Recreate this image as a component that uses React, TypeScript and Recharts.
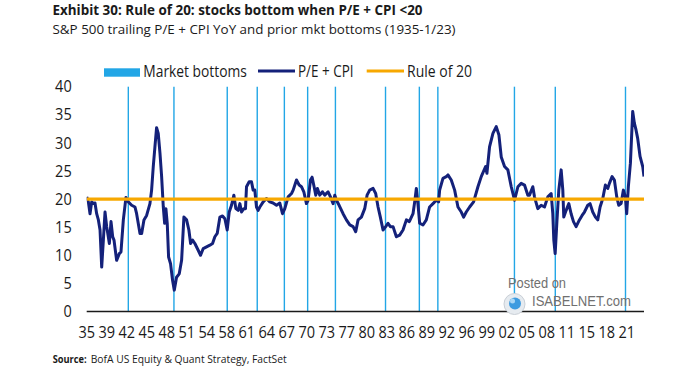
import React from 'react';
import { LineChart, Line, XAxis, YAxis, ReferenceLine } from 'recharts';

// Decimal years of the sampled points
const YEARS = [
  1935.78, 1936.04, 1936.3, 1936.56, 1936.82, 1937.08, 1937.34, 1937.61, 1937.87, 1938.13,
  1938.39, 1938.65, 1938.91, 1939.33, 1939.59, 1939.85, 1940.06, 1940.47, 1940.89, 1941.15,
  1941.52, 1941.93, 1942.3, 1942.82, 1943.34, 1943.6, 1944.13, 1944.39, 1944.75, 1945.17,
  1945.69, 1945.95, 1946.21, 1946.47, 1946.73, 1946.99, 1947.26, 1947.52, 1947.78, 1947.99,
  1948.19, 1948.4, 1948.61, 1948.92, 1949.24, 1949.5, 1949.86, 1950.28, 1950.65, 1951.01,
  1951.43, 1951.79, 1952.06, 1952.37, 1952.73, 1953.25, 1953.62, 1954.04, 1954.56, 1955.08,
  1955.5, 1955.86, 1956.23, 1956.65, 1957.06, 1957.43, 1957.79, 1958.11, 1958.47, 1958.84,
  1959.15, 1959.51, 1959.78, 1960.04, 1960.4, 1960.66, 1960.82, 1961.24, 1961.6, 1961.86,
  1962.12, 1962.38, 1962.64, 1962.91, 1963.43, 1963.95, 1964.47, 1964.98, 1965.52, 1966.04,
  1966.46, 1966.82, 1967.34, 1967.87, 1968.13, 1968.65, 1969.07, 1969.43, 1969.8, 1970.21,
  1970.47, 1970.84, 1971.1, 1971.41, 1971.67, 1971.93, 1972.3, 1972.72, 1973.08, 1973.6,
  1973.97, 1974.39, 1974.65, 1974.91, 1975.33, 1975.95, 1976.47, 1977.0, 1977.52, 1977.93,
  1978.3, 1978.82, 1979.34, 1979.71, 1980.12, 1980.65, 1981.06, 1981.43, 1981.79, 1982.21,
  1982.63, 1982.99, 1983.36, 1983.78, 1984.3, 1984.82, 1985.34, 1985.87, 1986.33, 1986.91,
  1987.17, 1987.43, 1987.69, 1987.95, 1988.47, 1988.99, 1989.51, 1990.04, 1990.56, 1990.92,
  1991.08, 1991.6, 1992.12, 1992.38, 1992.9, 1993.43, 1993.95, 1994.47, 1994.84, 1995.25,
  1995.78, 1996.4, 1997.08, 1997.6, 1998.28, 1998.49, 1998.9, 1999.43, 1999.95, 2000.37,
  2000.73, 2001.25, 2001.77, 2002.3, 2002.82, 2003.34, 2003.86, 2004.38, 2004.9, 2005.16,
  2005.68, 2005.94, 2006.46, 2006.99, 2007.51, 2008.03, 2008.55, 2008.81, 2008.97, 2009.18,
  2009.44, 2009.75, 2010.12, 2010.38, 2010.53, 2010.9, 2011.32, 2011.68, 2012.05, 2012.46,
  2012.98, 2013.4, 2013.77, 2014.29, 2014.65, 2015.07, 2015.49, 2015.85, 2016.22, 2016.64,
  2017.05, 2017.42, 2017.68, 2018.1, 2018.46, 2018.83, 2019.14, 2019.51, 2019.87, 2020.18,
  2020.39, 2020.65, 2020.97, 2021.33, 2021.59, 2021.85, 2022.11, 2022.48, 2022.9, 2023.1,
];

// S&P 500 trailing P/E + CPI YoY
const PE_CPI = [
  20.4, 19.5, 17.4, 19.5, 19.2, 19.3, 17.4, 16.3, 14.5, 7.9,
  12.7, 17.7, 15.1, 12.1, 16.0, 13.3, 12.7, 9.1, 10.3, 10.6,
  16.3, 20.3, 19.5, 18.9, 18.6, 17.4, 13.9, 13.9, 16.3, 17.1,
  19.2, 21.6, 25.8, 29.3, 32.7, 31.7, 28.2, 24.0, 18.6, 15.7,
  18.3, 15.7, 9.7, 8.5, 5.5, 3.8, 6.1, 6.7, 9.1, 16.8,
  16.3, 14.5, 12.1, 12.7, 12.1, 10.9, 10.0, 11.2, 11.5, 11.8,
  12.1, 13.3, 13.9, 16.8, 17.0, 16.5, 14.5, 17.7, 18.9, 20.7,
  18.3, 18.0, 19.2, 17.7, 18.3, 18.3, 22.2, 23.1, 23.1, 21.6,
  21.6, 18.6, 18.0, 18.6, 19.5, 20.1, 19.5, 19.3, 18.9, 19.3,
  17.4, 18.3, 20.4, 21.0, 21.6, 23.4, 22.5, 22.2, 21.3, 19.2,
  19.8, 23.4, 23.9, 22.2, 20.7, 21.9, 20.7, 21.3, 20.7, 21.3,
  20.4, 19.2, 20.7, 19.8, 18.9, 17.4, 16.3, 15.4, 15.1, 14.2,
  16.3, 16.8, 18.3, 20.7, 21.6, 21.9, 21.0, 18.6, 16.8, 14.5,
  15.1, 15.7, 15.1, 15.1, 13.3, 13.6, 14.5, 16.3, 16.0, 17.4,
  19.5, 21.9, 19.0, 15.7, 15.4, 16.3, 18.6, 19.2, 19.8, 19.5,
  21.6, 23.7, 24.0, 24.3, 23.4, 21.6, 18.6, 17.7, 16.8, 17.7,
  18.6, 19.5, 22.2, 24.0, 25.8, 24.6, 29.3, 31.7, 32.9, 31.4,
  27.5, 25.8, 25.2, 22.2, 19.8, 22.2, 22.8, 22.5, 20.7, 20.7,
  22.2, 20.4, 18.3, 18.9, 18.6, 20.4, 21.0, 17.4, 12.7, 10.3,
  15.7, 21.6, 25.2, 21.6, 16.8, 18.0, 19.2, 17.4, 16.0, 15.1,
  16.3, 17.1, 17.7, 18.9, 19.2, 17.7, 16.8, 16.3, 18.6, 20.1,
  22.5, 21.9, 22.8, 24.0, 23.4, 20.4, 18.9, 19.2, 21.6, 20.4,
  17.4, 22.2, 26.4, 35.6, 33.5, 32.3, 30.8, 27.6, 25.8, 24.0,
];

const RULE_OF_20 = 20;

// Market bottoms (decimal years)
const MARKET_BOTTOMS = [
  1942.3, 1949.45, 1957.8, 1962.5, 1966.75, 1970.4, 1974.75, 1982.6, 1987.9, 1990.8, 2002.8,
  2009.2, 2020.2,
];

const X_DOMAIN: [number, number] = [1935.78, 2023.1];
const TICK_YEARS = [
  1935.78, 1938.91, 1942.05, 1945.18, 1948.32, 1951.45, 1954.58, 1957.72, 1960.85, 1963.99,
  1967.12, 1970.25, 1973.39, 1976.52, 1979.66, 1982.79, 1985.92, 1989.06, 1992.19, 1995.33,
  1998.46, 2001.59, 2004.73, 2007.86, 2011.0, 2014.13, 2017.26, 2020.4,
];
const TICK_LABELS = [
  '35', '39', '42', '45', '48', '51', '54', '58', '61', '64', '67', '70', '73', '77', '80', '83',
  '86', '89', '92', '96', '99', '02', '05', '08', '11', '15', '18', '21',
];
const Y_TICKS = [0, 5, 10, 15, 20, 25, 30, 35, 40];

const NAVY = '#14217a';
const ORANGE = '#f7a800';
const LIGHT_BLUE = '#22a6e6';
const TEXT = '#1a1a1a';

const data = YEARS.map((year, i) => ({ year, pe: PE_CPI[i], rule: RULE_OF_20 }));

const XTick = (props: any) => {
  const { x, y, payload } = props;
  const label = TICK_LABELS[TICK_YEARS.indexOf(payload.value)] ?? '';
  return (
    <text
      x={x}
      y={y}
      dy="0.71em"
      textAnchor="middle"
      fill={TEXT}
      fontFamily="Open Sans"
      fontSize={16}
      textLength={16.6}
      lengthAdjust="spacingAndGlyphs"
    >
      {label}
    </text>
  );
};

const YTick = (props: any) => {
  const { x, y, payload } = props;
  const label = String(payload.value);
  return (
    <text
      x={x}
      y={y}
      dy="0.355em"
      textAnchor="end"
      fill={TEXT}
      fontFamily="Open Sans"
      fontSize={16}
      textLength={label.length * 8.3}
      lengthAdjust="spacingAndGlyphs"
    >
      {label}
    </text>
  );
};

export default function App() {
  return (
    <div
      style={{
        position: 'absolute',
        left: 0,
        top: 0,
        width: 700,
        height: 370,
        background: '#ffffff',
        overflow: 'hidden',
      }}
    >
      <div style={{ position: 'absolute', left: 0, top: 0 }}>
        <LineChart
          width={700}
          height={370}
          data={data}
          margin={{ top: 86.7, right: 56, bottom: 0, left: 0 }}
        >
          <XAxis
            dataKey="year"
            type="number"
            domain={X_DOMAIN}
            allowDataOverflow
            ticks={TICK_YEARS}
            interval={0}
            tick={<XTick />}
            tickLine={false}
            tickSize={0}
            tickMargin={15}
            height={58.5}
            axisLine={{ stroke: TEXT, strokeWidth: 1.5 }}
          />
          <YAxis
            type="number"
            domain={[0, 40]}
            ticks={Y_TICKS}
            interval={0}
            tick={<YTick />}
            tickLine={false}
            tickSize={0}
            tickMargin={15}
            axisLine={false}
            width={86.7}
          />
          {MARKET_BOTTOMS.map((b) => (
            <ReferenceLine key={b} x={b} stroke={LIGHT_BLUE} strokeWidth={1.4} />
          ))}
          <Line
            type="linear"
            dataKey="pe"
            stroke={NAVY}
            strokeWidth={3}
            dot={false}
            strokeLinejoin="round"
            isAnimationActive={false}
          />
          <Line
            type="linear"
            dataKey="rule"
            stroke={ORANGE}
            strokeWidth={3.2}
            dot={false}
            isAnimationActive={false}
          />
        </LineChart>
      </div>
      <svg
        width={700}
        height={370}
        style={{ position: 'absolute', left: 0, top: 0, pointerEvents: 'none' }}
      >
        <text
          x={52.5}
          y={15}
          fontFamily="Open Sans"
          fontWeight="bold"
          fontSize={13.5}
          fill={TEXT}
          textLength={370}
          lengthAdjust="spacingAndGlyphs"
        >
          Exhibit 30: Rule of 20: stocks bottom when P/E + CPI &lt;20
        </text>
        <text
          x={52.5}
          y={34}
          fontFamily="Open Sans"
          fontSize={13.5}
          fill={TEXT}
          textLength={403}
          lengthAdjust="spacingAndGlyphs"
        >
          S&amp;P 500 trailing P/E + CPI YoY and prior mkt bottoms (1935-1/23)
        </text>

        {/* Legend */}
        <rect x={104} y={68.3} width={36} height={8.4} fill={LIGHT_BLUE} />
        <text
          x={143.3}
          y={77}
          fontFamily="Open Sans"
          fontSize={16.5}
          fill={TEXT}
          textLength={103.5}
          lengthAdjust="spacingAndGlyphs"
        >
          Market bottoms
        </text>
        <line x1={258} x2={295} y1={71} y2={71} stroke={NAVY} strokeWidth={3} />
        <text
          x={298}
          y={77}
          fontFamily="Open Sans"
          fontSize={16.5}
          fill={TEXT}
          textLength={55.5}
          lengthAdjust="spacingAndGlyphs"
        >
          P/E + CPI
        </text>
        <line x1={366.7} x2={404} y1={71} y2={71} stroke={ORANGE} strokeWidth={3} />
        <text
          x={407}
          y={77}
          fontFamily="Open Sans"
          fontSize={16.5}
          fill={TEXT}
          textLength={65}
          lengthAdjust="spacingAndGlyphs"
        >
          Rule of 20
        </text>

        {/* Watermark */}
        <text
          x={508}
          y={287.7}
          fontFamily="Liberation Sans"
          fontSize={14}
          fill="#707070"
          textLength={58}
          lengthAdjust="spacingAndGlyphs"
        >
          Posted on
        </text>
        <circle cx={514.5} cy={304} r={10.5} fill="#e6ebf0" stroke="#c9cfd6" strokeWidth={1} />
        <circle cx={515} cy={303.5} r={6} fill="#3d9be0" />
        <circle cx={512.5} cy={301} r={2.5} fill="#a9d6f5" />
        <text
          x={532}
          y={306}
          fontFamily="Liberation Sans"
          fontSize={14}
          fill="#707070"
          textLength={99}
          lengthAdjust="spacingAndGlyphs"
        >
          ISABELNET.com
        </text>

        {/* Source */}
        <text
          x={52.7}
          y={362.7}
          fontFamily="Open Sans"
          fontWeight="bold"
          fontSize={10}
          fill={TEXT}
          textLength={34}
          lengthAdjust="spacingAndGlyphs"
        >
          Source:
        </text>
        <text
          x={90.7}
          y={362.7}
          fontFamily="Open Sans"
          fontSize={10}
          fill={TEXT}
          textLength={196}
          lengthAdjust="spacingAndGlyphs"
        >
          BofA US Equity &amp; Quant Strategy, FactSet
        </text>
      </svg>
    </div>
  );
}
